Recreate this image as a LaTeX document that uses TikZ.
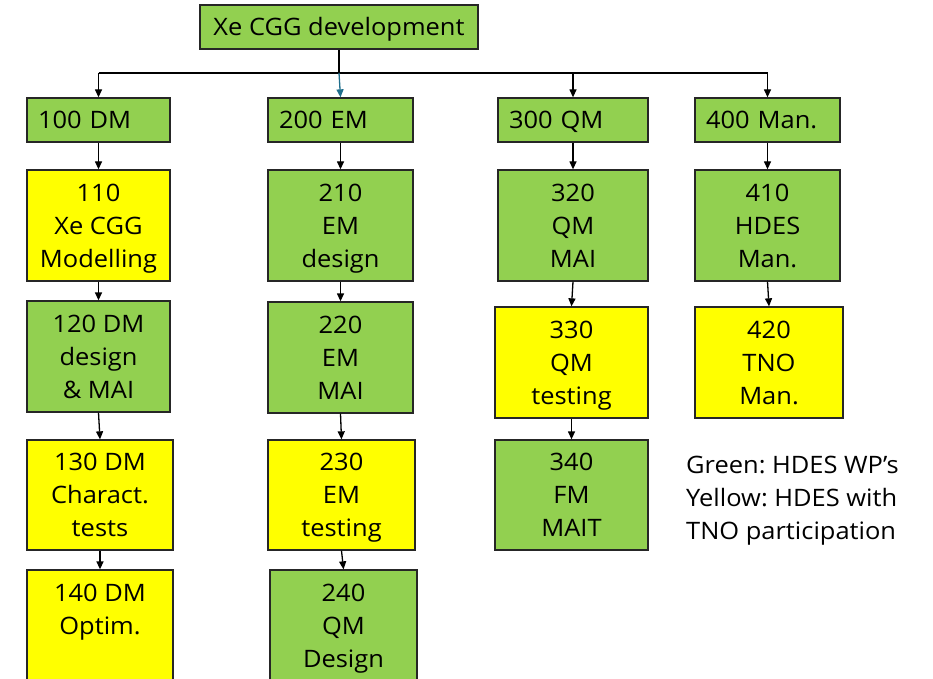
\documentclass[tikz,border=0pt]{standalone}
\usepackage{fontspec}
\setmainfont{Open Sans}[FakeStretch=1.06]
\usetikzlibrary{arrows.meta}
\frenchspacing
\definecolor{wpgreen}{HTML}{92D050}
\definecolor{wpyellow}{HTML}{FFFF00}
\definecolor{busblue}{HTML}{1F6E8C}
\newcommand\ls{\rule[-7pt]{0pt}{31pt}}
\tikzset{
  wp/.style={draw=black!85, line width=1.3pt, minimum height=111pt, align=center, inner sep=0pt,
    font=\fontsize{24}{33}\selectfont},
  gr/.style={wp, fill=wpgreen},
  ye/.style={wp, fill=wpyellow},
  hd/.style={draw=black!85, line width=1.3pt, fill=wpgreen, minimum height=44pt, inner ysep=0pt,
    inner xsep=11pt, align=left, font=\fontsize{24}{33}\selectfont},
  conn/.style={line width=1.3pt, -{Triangle[length=8pt,width=7pt]}},
}
\begin{document}
\begin{tikzpicture}[x=1pt,y=-1pt]
\useasboundingbox (0,0) rectangle (933,679);
\clip (0,0) rectangle (933,679);
% top
\node[hd, minimum width=278pt, align=center, inner xsep=0pt] (top) at (339,27) {\ls Xe CGG development};
% level 1
\node[hd, text width=121pt] (d100) at (98.5,120) {\ls 100 DM};
\node[hd, text width=123pt] (e200) at (340.5,120) {\ls 200 EM};
\node[hd, text width=128pt] (q300) at (573,120) {\ls 300 QM};
\node[hd, text width=123pt] (m400) at (767.5,120) {\ls 400 Man.};
% level 2
\node[ye, minimum width=143pt] (d110) at (98.5,225.5) {\ls 110\\\ls Xe CGG\\\ls Modelling};
\node[gr, minimum width=145pt] (e210) at (340.5,225.5) {\ls 210\\\ls EM\\\ls design};
\node[gr, minimum width=150pt] (q320) at (573,225.5) {\ls 320\\\ls QM\\\ls MAI};
\node[gr, minimum width=145pt] (m410) at (767.5,225.5) {\ls 410\\\ls HDES\\\ls Man.};
% level 3
\node[gr, minimum width=143pt] (d120) at (98.5,356.5) {\ls 120 DM\\\ls design\\\ls \& MAI};
\node[gr, minimum width=145pt] (e220) at (340.5,357.5) {\ls 220\\\ls EM\\\ls MAI};
\node[ye, minimum width=153pt] (q330) at (571.5,362.5) {\ls 330\\\ls QM\\\ls testing};
\node[ye, minimum width=148pt] (m420) at (769,362.5) {\ls 420\\\ls TNO\\\ls Man.};
% level 4
\node[ye, minimum width=146pt, minimum height=110pt] (d130) at (100,495) {\ls 130 DM\\\ls Charact.\\\ls tests};
\node[ye, minimum width=147pt, minimum height=110pt] (e230) at (341.5,495) {\ls 230\\\ls EM\\\ls testing};
\node[gr, minimum width=153pt, minimum height=110pt] (q340) at (571.5,495) {\ls 340\\\ls FM\\\ls MAIT};
% level 5
\node[ye, minimum width=146pt] (d140) at (100,625.5) {\ls 140 DM\\\ls Optim.\\\ls};
\node[gr, minimum width=147pt] (e240) at (343.5,625.5) {\ls 240\\\ls QM\\\ls Design};
% legend
\node[anchor=north west, align=left, inner sep=0pt, font=\fontsize{24}{33}\selectfont] (legend) at (686,449)
  {\ls Green: HDES WP’s\\\ls Yellow: HDES with\\\ls TNO participation};
% bus
\coordinate (bus) at (top.south |- 0,73);
\draw[line width=1.3pt] (top.south) -- (bus);
\draw[line width=1.3pt] (d100.north |- bus) -- (m400.north |- bus);
\draw[conn] (d100.north |- bus) -- (d100.north);
\draw[conn, busblue] (bus) -- (e200.north);
\draw[conn] (q300.north |- bus) -- (q300.north);
\draw[conn] (m400.north |- bus) -- (m400.north);
% chains
\draw[conn] (d100.south) -- (d110.north);
\draw[conn] (d110.south) -- (d120.north);
\draw[conn] (d120.south) -- (d130.north);
\draw[conn] (d130.south) -- (d140.north);
\draw[conn] (e200.south) -- (e210.north);
\draw[conn] (e210.south) -- (e220.north);
\draw[conn] (e220.south) -- (e230.north);
\draw[conn] (e230.south) -- (e240.north);
\draw[conn] (q300.south) -- (q320.north);
\draw[conn] (q320.south) -- (q330.north);
\draw[conn] (q330.south) -- (q340.north);
\draw[conn] (m400.south) -- (m410.north);
\draw[conn] (m410.south) -- (m420.north);
\end{tikzpicture}
\end{document}
